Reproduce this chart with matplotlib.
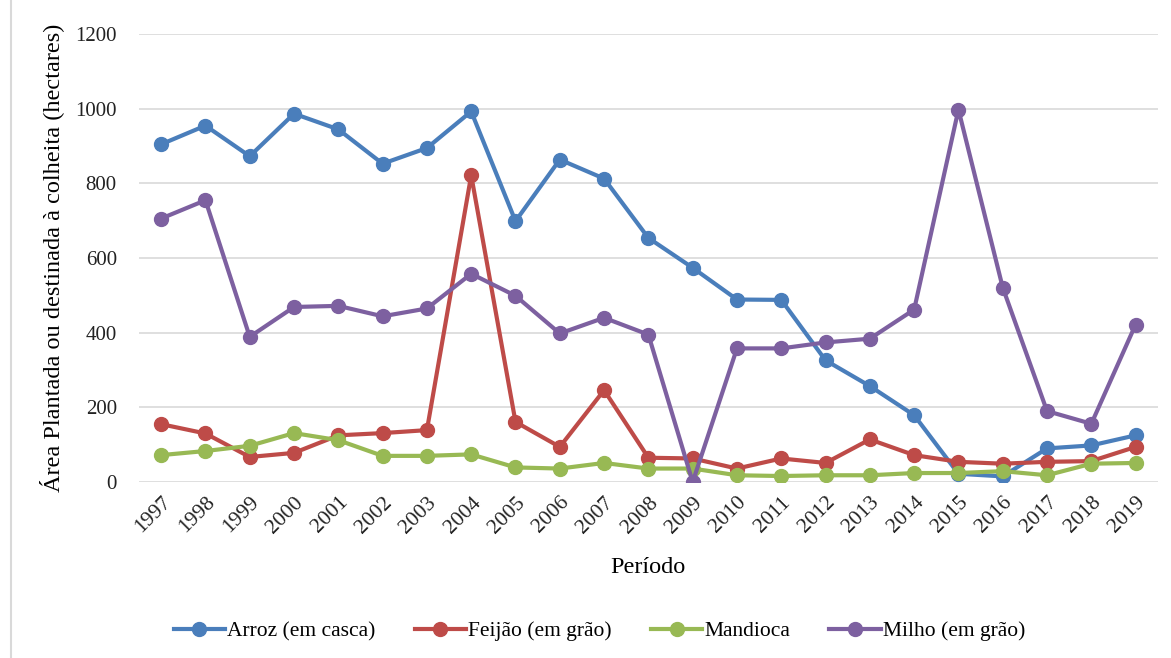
import numpy as np
import matplotlib
matplotlib.use("Agg")
import matplotlib.pyplot as plt
from matplotlib.lines import Line2D

plt.rcParams['font.family'] = ['Liberation Serif', 'DejaVu Serif']

# data
anos = [str(a) for a in range(1997, 2020)]
arroz = [905, 955, 873, 987, 945, 853, 895, 993, 699, 864, 813, 654, 574,
         489, 488, 326, 257, 179, 22, 15, 90, 98, 125]
feijao = [155, 130, 67, 78, 125, 131, 139, 822, 161, 94, 246, 65, 63,
          36, 63, 51, 114, 72, 54, 49, 54, 56, 94]
mandioca = [72, 83, 97, 131, 112, 70, 70, 74, 39, 36, 51, 36, 36,
            18, 16, 18, 18, 24, 24, 29, 18, 49, 51]
milho = [706, 755, 389, 469, 472, 444, 465, 558, 499, 398, 440, 395, 0,
         358, 358, 374, 384, 462, 998, 521, 190, 156, 422]

series = [
    ('Arroz (em casca)', arroz, '#4A7EBB'),
    ('Feijão (em grão)', feijao, '#BE4B48'),
    ('Mandioca', mandioca, '#98B954'),
    ('Milho (em grão)', milho, '#7D60A0'),
]

fig = plt.figure(figsize=(11.71, 6.58), dpi=100)
ax = fig.add_axes([0.1187, 0.2675, 0.870, 0.6805])

x = np.arange(len(anos))
for nome, vals, cor in series:
    ax.plot(x, vals, color=cor, lw=3, marker='o', ms=10, label=nome)

ax.set_xlim(-0.5, len(anos) - 0.5)
ax.set_ylim(0, 1200)
ax.set_yticks(range(0, 1201, 200))
ax.set_xticks(x)
ax.set_xticklabels(anos, rotation=45, ha='right', rotation_mode='anchor')
ax.tick_params(axis='both', length=0, colors='#222222')
ax.tick_params(axis='y', pad=16, labelsize=15)
ax.tick_params(axis='x', pad=8, labelsize=15.5)
ax.grid(axis='y', color='#D9D9D9', lw=1.2)
ax.set_axisbelow(True)
for s in ax.spines.values():
    s.set_visible(False)

ax.set_xlabel('Período', fontsize=17.5, labelpad=14)
ax.set_ylabel('Área Plantada ou destinada à colheita (hectares)', fontsize=17.5, labelpad=8)

handles = [Line2D([], [], color=c, lw=3, marker='o', ms=10) for _, _, c in series]
fig.legend(handles, [n for n, _, _ in series], loc='center', bbox_to_anchor=(0.512, 0.041),
           ncol=4, frameon=False, fontsize=15.5, handlelength=2.4, handletextpad=0.1,
           columnspacing=1.8)

# thin frame line on the left edge, as in the reference
fig.add_artist(Line2D([0.009, 0.009], [0, 1], transform=fig.transFigure, color='#D9D9D9', lw=1.5))

fig.savefig('out.png', dpi=100)
